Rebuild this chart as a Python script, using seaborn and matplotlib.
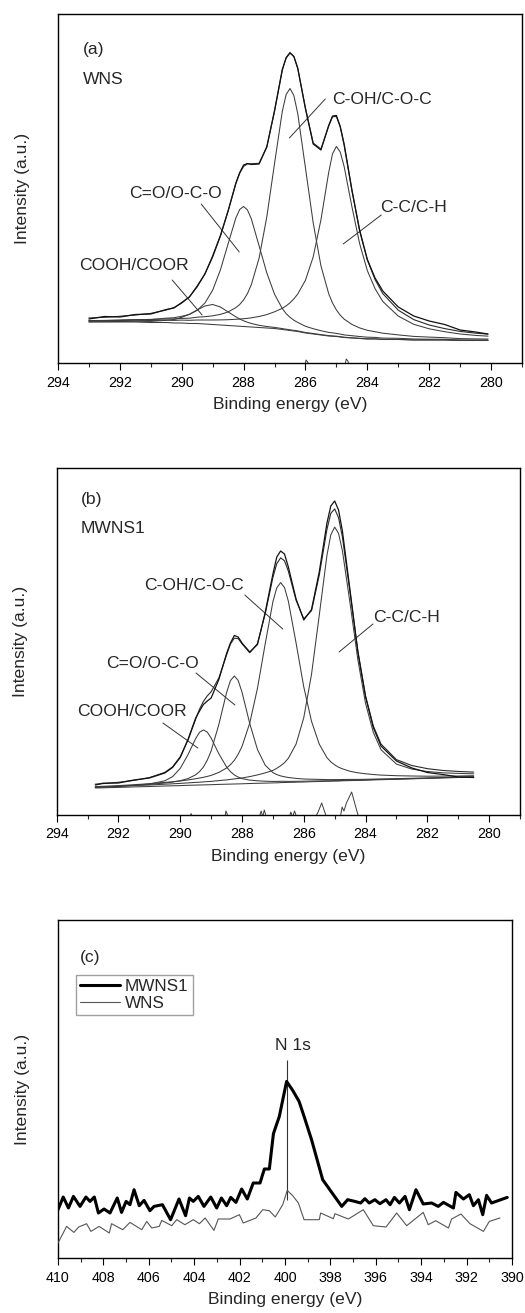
import matplotlib
matplotlib.use("Agg")
import matplotlib.pyplot as plt
import seaborn as sns
from matplotlib.ticker import MultipleLocator

# ---------------- panel (a): WNS, C 1s ----------------
energy_a = [293.0, 292.5, 292.0, 291.5, 291.0, 290.5, 290.25, 290.0, 289.75, 289.5,
            289.25, 289.0, 288.75, 288.5, 288.25, 288.125, 288.0, 287.875, 287.75, 287.5,
            287.25, 287.0, 286.75, 286.625, 286.5, 286.375, 286.25, 286.0, 285.75, 285.5,
            285.25, 285.125, 285.0, 284.875, 284.75, 284.5, 284.25, 284.0, 283.75, 283.5,
            283.0, 282.5, 282.0, 281.5, 281.0, 280.5, 280.1]
baseline_a = [41, 41, 41, 41, 40.5, 40.5, 40, 40, 39.5, 39.5,
              39, 38.5, 38, 37.5, 37, 36.75, 36.5, 36.25, 36, 35.5,
              35, 34.5, 33.5, 33.0, 32.5, 32.0, 31.5, 30, 29, 28,
              27, 26.75, 26.5, 26.0, 25.5, 25, 24.5, 24, 24, 23.5,
              23.5, 23, 23, 23, 22.5, 22.5, 22.5]
cooh_a = [41.3, 41.4, 41.5, 41.7, 41.6, 42.7, 43.5, 45.7, 48.7, 53.1,
          57.0, 58.5, 56.0, 51.1, 46.2, 44.05, 42.2, 40.75, 39.5, 37.7,
          36.5, 35.6, 34.4, 33.8, 33.2, 32.65, 32.1, 30.5, 29.5, 28.4,
          27.4, 27.05, 26.8, 26.3, 25.8, 25.2, 24.7, 24.2, 24.2, 23.7,
          23.6, 23.1, 23.1, 23.1, 22.6, 22.6, 22.6]
co_a = [42.2, 42.4, 42.8, 43.3, 43.6, 44.8, 45.3, 46.7, 48.6, 52.7,
        60.0, 72.8, 93.1, 119.3, 145.1, 153.55, 156.5, 153.05, 144.1, 117.3,
        90.1, 68.8, 54.5, 49.4, 45.7, 42.8, 40.6, 36.7, 34.3, 32.3,
        30.6, 30.15, 29.6, 28.9, 28.1, 27.3, 26.5, 25.8, 25.6, 24.9,
        24.7, 24.0, 23.8, 23.7, 23.1, 23.05, 23.0]
coh_a = [42.4, 42.6, 42.9, 43.3, 43.4, 44.1, 44.1, 44.6, 44.8, 45.8,
         46.3, 47.2, 48.6, 51.1, 55.4, 58.55, 63.1, 69.45, 78.4, 104.7,
         146.1, 199.5, 251.5, 268.5, 274.5, 267.5, 249.5, 195.0, 140.1, 97.2,
         69.4, 59.95, 53.1, 47.8, 43.9, 38.6, 35.1, 32.7, 31.3, 29.8,
         28.1, 26.6, 25.9, 25.3, 24.4, 24.1, 23.95]
cc_a = [42.1, 42.3, 42.5, 42.7, 42.5, 42.9, 42.6, 42.9, 42.7, 43.0,
        43.0, 43.0, 43.1, 43.3, 43.7, 43.95, 44.3, 44.65, 45.2, 46.5,
        48.4, 51.2, 54.7, 57.1, 60.2, 64.1, 69.0, 82.8, 106.1, 143.2,
        190.4, 209.35, 216.5, 210.9, 196.5, 156.5, 119.5, 92.4, 74.3, 61.5,
        46.9, 38.7, 34.2, 31.3, 29.0, 27.6, 26.85]
fit_a = [45.0, 45.7, 46.7, 48.0, 49.6, 53.0, 55.5, 59.9, 66.3, 76.1,
         89.3, 106.0, 126.8, 152.3, 179.4, 189.85, 196.6, 199.15, 199.2, 199.7,
         216.1, 251.6, 292.5, 305.5, 310.5, 306.5, 294.5, 255.0, 220.0, 214.0,
         236.8, 246.25, 246.5, 235.9, 217.8, 172.6, 132.3, 103.1, 83.4, 69.4,
         52.8, 43.4, 38.0, 34.4, 31.6, 29.85, 28.9]
raw_a = [44.0, 46.5, 46.0, 48.5, 49.0, 53.5, 55.0, 60.5, 66.0, 77.0,
         89.0, 107.0, 127.5, 152.0, 180.0, 190.5, 198.0, 199.5, 198.5, 199.0,
         216.0, 252.5, 293.5, 305.0, 310.0, 306.5, 295.0, 254.0, 219.0, 213.0,
         237.5, 247.0, 247.5, 236.5, 219.0, 173.5, 133.0, 103.5, 85.0, 72.0,
         56.0, 47.0, 42.0, 38.5, 33.0, 31.0, 29.0]
resid_energy_a = [293.0, 286.05, 285.98, 285.93, 285.85, 284.75, 284.68, 284.63, 284.55, 280.1]
resid_a = [-15, -6, 3, 1, -6, -6, 4, 2, -6, -15]

# ---------------- panel (b): MWNS1, C 1s ----------------
energy_b = [292.75, 292.5, 292.0, 291.5, 291.0, 290.5, 290.25, 290.0, 289.75, 289.5,
            289.375, 289.25, 289.125, 289.0, 288.75, 288.5, 288.375, 288.25, 288.125, 288.0,
            287.75, 287.5, 287.25, 287.0, 286.875, 286.75, 286.625, 286.5, 286.25, 286.0,
            285.75, 285.5, 285.25, 285.125, 285.0, 284.875, 284.75, 284.5, 284.25, 284.0,
            283.75, 283.5, 283.0, 282.5, 282.0, 281.5, 281.0, 280.5]
baseline_b = [27.0, 27.2, 27.6, 28.1, 28.5, 29.0, 29.2, 29.4, 29.7, 29.9,
              30.0, 30.1, 30.2, 30.3, 30.6, 30.8, 30.9, 31.0, 31.1, 31.2,
              31.5, 31.7, 31.9, 32.1, 32.2, 32.4, 32.5, 32.6, 32.8, 33.0,
              33.3, 33.5, 33.7, 33.8, 33.9, 34.0, 34.2, 34.4, 34.6, 34.8,
              35.1, 35.3, 35.7, 36.2, 36.6, 37.1, 37.5, 38.0]
cooh_b = [27.7, 28.0, 28.6, 29.6, 31.0, 34.2, 38.3, 46.6, 60.3, 76.5,
          82.7, 85.1, 82.9, 76.9, 61.2, 48.0, 43.4, 40.1, 37.9, 36.4,
          34.9, 34.2, 33.8, 33.6, 33.6, 33.7, 33.7, 33.6, 33.7, 33.8,
          34.0, 34.1, 34.2, 34.3, 34.4, 34.4, 34.6, 34.8, 34.9, 35.1,
          35.4, 35.6, 35.9, 36.4, 36.8, 37.25, 37.6, 38.1]
co_b = [27.8, 28.1, 28.8, 29.6, 30.6, 32.0, 33.0, 34.3, 36.4, 40.2,
        43.4, 48.0, 54.8, 64.05, 90.6, 122.4, 134.4, 139.0, 134.6, 122.8,
        91.5, 65.45, 49.8, 42.4, 40.4, 39.1, 38.2, 37.5, 36.6, 36.0,
        35.8, 35.6, 35.4, 35.4, 35.4, 35.4, 35.5, 35.6, 35.6, 35.7,
        35.9, 36.05, 36.35, 36.75, 37.05, 37.5, 37.85, 38.3]
coh_b = [28.4, 28.7, 29.4, 30.3, 31.3, 32.6, 33.2, 34.0, 35.1, 36.3,
         37.0, 37.7, 38.6, 39.6, 42.6, 47.0, 50.3, 54.6, 60.7, 68.6,
         91.9, 126.7, 171.1, 213.3, 227.2, 232.4, 227.5, 213.8, 172.0, 128.0,
         93.7, 70.9, 57.3, 53.2, 50.1, 47.8, 46.2, 43.7, 42.2, 41.2,
         40.5, 39.9, 39.3, 39.0, 38.8, 38.9, 39.0, 39.3]
cc_b = [27.9, 28.2, 28.7, 29.4, 30.0, 30.8, 31.2, 31.6, 32.1, 32.6,
        32.8, 33.1, 33.4, 33.6, 34.4, 35.1, 35.6, 36.1, 36.5, 37.0,
        38.4, 40.1, 42.1, 44.5, 46.7, 49.2, 52.3, 56.7, 70.9, 97.4,
        140.7, 199.6, 259.8, 280.2, 287.9, 281.7, 264.3, 211.2, 155.3, 111.5,
        82.6, 65.3, 50.9, 45.9, 43.5, 42.2, 41.6, 41.2]
fit_b = [30.8, 31.4, 32.7, 34.6, 37.4, 42.6, 48.1, 58.3, 74.8, 95.9,
         105.9, 113.6, 119.1, 123.25, 137.0, 160.1, 171.0, 176.8, 176.4, 171.2,
         162.2, 171.35, 201.1, 237.5, 251.3, 257.2, 254.2, 243.8, 214.8, 196.2,
         204.3, 239.7, 285.6, 301.7, 306.1, 297.3, 278.0, 222.1, 164.2, 119.1,
         89.1, 70.95, 55.35, 49.45, 46.35, 44.55, 43.55, 42.9]
raw_b = [30.0, 31.8, 32.0, 35.0, 37.0, 42.0, 47.5, 57.5, 75.5, 97.0,
         104.0, 110.5, 114.0, 117.0, 135.5, 161.5, 172.0, 179.5, 178.0, 172.0,
         163.0, 170.5, 202.5, 241.0, 258.0, 264.0, 261.0, 248.0, 216.0, 195.0,
         205.5, 243.0, 292.0, 309.0, 314.0, 305.0, 284.0, 224.0, 163.0, 118.0,
         87.5, 69.0, 54.0, 47.0, 42.5, 40.5, 38.0, 37.5]
resid_energy_b = [292.7, 290.0, 289.7, 289.65, 289.6, 289.4, 288.6, 288.52, 288.48, 288.4,
                  287.5, 287.38, 287.33, 287.28, 287.22, 287.15, 286.5, 286.42, 286.36, 286.3,
                  286.22, 286.1, 285.7, 285.55, 285.42, 285.3, 285.15, 284.85, 284.76, 284.7,
                  284.62, 284.45, 284.3, 284.15, 283.5, 281.0, 280.5]
resid_b = [-14, -12, -4, 1.5, -4, -12, -10, 4, 1, -10,
           -8, 4, -2, 5, -1, -8, -6, 3, -2, 4,
           -3, -9, -6, 2, 12, 1, -10, -8, 8, 4,
           12, 23, 6, -10, -12, -11, -12]

# ---------------- panel (c): N 1s ----------------
energy_mwns1 = [410.00, 409.77, 409.54, 409.32, 409.03, 408.77, 408.59, 408.40, 408.22, 407.97,
                407.71, 407.39, 407.20, 407.00, 406.83, 406.65, 406.42, 406.21, 405.95, 405.77,
                405.40, 405.04, 404.67, 404.38, 404.21, 404.04, 403.82, 403.57, 403.27, 403.01,
                402.80, 402.57, 402.39, 402.16, 401.91, 401.66, 401.40, 401.10, 400.91, 400.69,
                400.51, 400.25, 399.93, 399.66, 399.38, 399.16, 398.83, 398.34, 397.87, 397.50,
                397.24, 396.92, 396.67, 396.48, 396.29, 396.04, 395.82, 395.55, 395.37, 395.18,
                394.96, 394.71, 394.52, 394.23, 393.91, 393.54, 393.25, 393.02, 392.58, 392.47,
                392.14, 391.88, 391.70, 391.48, 391.29, 391.12, 390.90, 390.21]
int_mwns1 = [48.3, 61.0, 50.0, 61.6, 51.6, 61.0, 56.6, 61.0, 45.0, 49.0,
             45.0, 60.0, 45.6, 56.6, 53.3, 68.3, 52.3, 57.6, 47.3, 51.6,
             53.3, 38.3, 59.0, 42.3, 60.0, 56.6, 61.6, 51.6, 61.0, 50.0,
             60.0, 52.3, 60.6, 55.6, 69.0, 59.0, 75.0, 75.0, 89.0, 89.0,
             124.3, 141.6, 176.6, 167.6, 156.6, 141.6, 118.3, 78.3, 63.3, 51.6,
             58.3, 56.6, 55.0, 59.3, 55.0, 58.3, 54.3, 58.3, 53.3, 60.6,
             55.0, 61.6, 48.3, 68.3, 54.0, 55.0, 51.6, 55.6, 50.0, 65.6,
             59.0, 63.3, 52.3, 58.3, 43.3, 62.6, 55.0, 60.6]
energy_wns = [410.00, 409.62, 409.30, 409.09, 408.74, 408.55, 408.19, 407.74, 407.64, 407.15,
              406.83, 406.31, 406.09, 405.87, 405.54, 405.43, 404.99, 404.77, 404.41, 404.04,
              403.77, 403.52, 403.13, 402.94, 402.42, 402.01, 401.84, 401.28, 400.98, 400.69,
              400.43, 400.10, 399.90, 399.66, 399.41, 399.16, 398.49, 398.43, 397.87, 397.80,
              397.21, 396.55, 396.11, 395.55, 395.08, 394.64, 393.91, 393.69, 393.36, 392.80,
              392.66, 392.25, 391.85, 391.26, 391.00, 390.53]
int_wns = [15.0, 31.6, 25.6, 31.0, 34.3, 26.6, 31.6, 25.0, 34.3, 28.3,
           35.6, 28.3, 36.6, 30.0, 31.6, 37.6, 32.3, 38.3, 33.3, 38.3,
           34.3, 40.0, 27.6, 39.0, 39.0, 43.3, 35.0, 40.0, 48.3, 47.3,
           41.0, 53.3, 67.6, 62.3, 55.0, 38.3, 38.3, 45.0, 39.3, 44.3,
           39.0, 48.3, 32.3, 31.0, 45.0, 32.3, 45.6, 33.3, 37.3, 30.0,
           39.0, 44.0, 34.3, 26.6, 36.6, 40.0]
n1s_position = 399.9

component_labels = ["COOH/COOR", "C=O/O-C-O", "C-OH/C-O-C", "C-C/C-H"]
sample_labels = ["WNS", "MWNS1"]

# ---------------- style ----------------
sns.set_theme(style="ticks")
plt.rcParams['font.family'] = ['Liberation Sans', 'DejaVu Sans']
plt.rcParams['axes.linewidth'] = 1.0

FS = 12.6
fig = plt.figure(figsize=(5.25, 13.13), dpi=100)
W, H = 525.0, 1313.0
ax_a = fig.add_axes([58 / W, 1 - 363 / H, 464 / W, 349 / H])
ax_b = fig.add_axes([56.7 / W, 1 - 815 / H, 463.3 / W, 347 / H])
ax_c = fig.add_axes([58 / W, 1 - 1258 / H, 454 / W, 338 / H])

COMP = '#3c3c3c'


def line(ax, x, y, color, lw, label=None, z=2):
    sns.lineplot(x=x, y=y, ax=ax, color=color, linewidth=lw, sort=False,
                 estimator=None, label=label, legend=False, zorder=z)


def leader(ax, p_text, p_curve):
    ax.annotate('', xy=p_curve, xytext=p_text,
                arrowprops=dict(arrowstyle='-', lw=0.7, color='#333333',
                                shrinkA=0, shrinkB=0))


# ---- (a)
for comp in (cooh_a, co_a, coh_a, cc_a):
    line(ax_a, energy_a, comp, COMP, 0.75)
line(ax_a, energy_a, baseline_a, COMP, 0.75)
line(ax_a, energy_a, fit_a, '#2a2a2a', 0.8, z=3)
line(ax_a, energy_a, raw_a, '#111111', 0.9, z=4)
line(ax_a, resid_energy_a, resid_a, COMP, 0.7)
ax_a.set_xlim(294, 279)
ax_a.set_ylim(0, 349)
ax_a.text(0.054, 0.897, "(a)", transform=ax_a.transAxes, fontsize=FS, va='center', ha='left')
ax_a.text(0.054, 0.811, sample_labels[0], transform=ax_a.transAxes, fontsize=FS, va='center', ha='left')
ax_a.text(285.13, 263, component_labels[2], fontsize=FS, ha='left', va='center')
leader(ax_a, (285.36, 264), (286.52, 225))
ax_a.text(290.2, 170, component_labels[1], fontsize=FS, ha='center', va='center')
leader(ax_a, (289.37, 159), (288.14, 111))
ax_a.text(283.58, 155, component_labels[3], fontsize=FS, ha='left', va='center')
leader(ax_a, (283.55, 148), (284.78, 119))
ax_a.text(291.56, 97, component_labels[0], fontsize=FS, ha='center', va='center')
leader(ax_a, (290.31, 83), (289.34, 48))

# ---- (b)
for comp in (cooh_b, co_b, coh_b, cc_b):
    line(ax_b, energy_b, comp, COMP, 0.75)
line(ax_b, energy_b, baseline_b, COMP, 0.75)
line(ax_b, energy_b, fit_b, '#2a2a2a', 0.8, z=3)
line(ax_b, energy_b, raw_b, '#111111', 0.9, z=4)
line(ax_b, resid_energy_b, resid_b, COMP, 0.7)
ax_b.set_xlim(294, 279)
ax_b.set_ylim(0, 347)
ax_b.text(0.052, 0.908, "(b)", transform=ax_b.transAxes, fontsize=FS, va='center', ha='left')
ax_b.text(0.052, 0.827, sample_labels[1], transform=ax_b.transAxes, fontsize=FS, va='center', ha='left')
ax_b.text(289.57, 230, component_labels[2], fontsize=FS, ha='center', va='center')
leader(ax_b, (287.91, 220), (286.68, 186))
ax_b.text(283.76, 198, component_labels[3], fontsize=FS, ha='left', va='center')
leader(ax_b, (283.76, 191), (284.86, 163))
ax_b.text(290.9, 152, component_labels[1], fontsize=FS, ha='center', va='center')
leader(ax_b, (289.49, 142), (288.23, 110))
ax_b.text(291.56, 104, component_labels[0], fontsize=FS, ha='center', va='center')
leader(ax_b, (290.56, 92), (289.43, 67))

# ---- (c)
line(ax_c, energy_mwns1, int_mwns1, '#000000', 2.2, label=sample_labels[1], z=4)
line(ax_c, energy_wns, int_wns, '#555555', 0.8, label=sample_labels[0], z=3)
ax_c.set_xlim(410, 390)
ax_c.set_ylim(0, 338)
ax_c.vlines(n1s_position, 58, 198, color='#333333', lw=0.8)
ax_c.text(399.65, 213, "N 1s", fontsize=FS, ha='center', va='center')
ax_c.text(0.048, 0.888, "(c)", transform=ax_c.transAxes, fontsize=FS, va='center', ha='left')
handles, labels = ax_c.get_legend_handles_labels()
leg = ax_c.legend(handles[:2], labels[:2], loc='upper left', bbox_to_anchor=(0.04, 0.837),
                  borderaxespad=0, frameon=True, fancybox=False, edgecolor='#888888',
                  fontsize=FS - 0.3, handlelength=2.3, handletextpad=0.3,
                  labelspacing=0.1, borderpad=0.25)
leg.get_frame().set_linewidth(1.0)

for ax, hpx in ((ax_a, 349), (ax_b, 347), (ax_c, 338)):
    ax.set_yticks([])
    ax.xaxis.set_major_locator(MultipleLocator(2))
    ax.xaxis.set_minor_locator(MultipleLocator(1))
    ax.tick_params(axis='x', which='major', direction='out', length=5, width=0.8,
                   labelsize=10.3, pad=4, colors='black')
    ax.tick_params(axis='x', which='minor', direction='out', length=3, width=0.8)
    for s in ax.spines.values():
        s.set_visible(True)
        s.set_color('black')
        s.set_linewidth(1.0)
    ax.set_xlabel("Binding energy (eV)", fontsize=FS)
    ax.set_ylabel("Intensity (a.u.)", fontsize=FS)
    ax.xaxis.set_label_coords(0.5, -34 / hpx)
    ax.xaxis.label.set_va('top')
    ax.yaxis.set_label_coords(-0.061, 0.5)

fig.savefig("out.png", dpi=100)
